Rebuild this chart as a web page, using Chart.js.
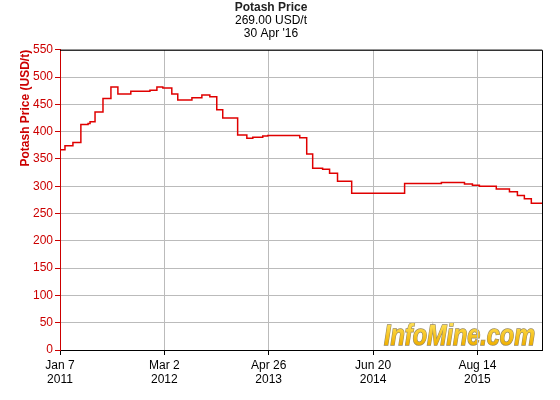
<!DOCTYPE html>
<html>
<head>
<meta charset="utf-8">
<script src="https://cdn.jsdelivr.net/npm/chart.js@4/dist/chart.umd.min.js"></script>
<style>
  html, body { margin: 0; padding: 0; background: #fff; }
  #wrap { width: 560px; height: 400px; }
</style>
</head>
<body>
<div id="wrap"><canvas id="potashChart" width="560" height="400"></canvas></div>
<script>
// Step dates (price valid from this date until the next one) and prices in USD/t
const priceDates = [
  "2011-01-07", "2011-01-27", "2011-02-28", "2011-04-01", "2011-04-30", "2011-05-08",
  "2011-05-28", "2011-06-29", "2011-07-31", "2011-08-28", "2011-10-19", "2012-01-04",
  "2012-02-01", "2012-02-25", "2012-04-01", "2012-04-25", "2012-06-21", "2012-07-31",
  "2012-09-01", "2012-09-29", "2012-10-23", "2012-12-22", "2013-01-28", "2013-02-21",
  "2013-04-02", "2013-04-22", "2013-08-29", "2013-09-26", "2013-10-20", "2013-11-29",
  "2013-12-27", "2014-01-28", "2014-03-26", "2014-10-25", "2015-03-22", "2015-06-23",
  "2015-07-25", "2015-08-22", "2015-10-29", "2015-12-21", "2016-01-22", "2016-02-19",
  "2016-03-18", "2016-04-30"
];
const prices = [
  367, 374, 380, 413, 415, 418,
  436, 461, 482, 469, 474, 476,
  482, 480, 469, 458, 462, 467,
  464, 440, 425, 394, 388, 390,
  392, 393, 389, 359, 333, 331,
  324, 309, 287, 305, 307, 304,
  302, 300, 295, 290, 283, 277,
  269, 269
];
const startDate = "2011-01-07";
const endDate = "2016-04-30";
const tickStepDays = 420;
const yTicksMax = 550;
const yTicksStep = 50;

const MONTHS = ["Jan", "Feb", "Mar", "Apr", "May", "Jun", "Jul", "Aug", "Sep", "Oct", "Nov", "Dec"];
const DAY_MS = 86400000;
const t0 = Date.parse(startDate + "T00:00:00Z");
const toDay = s => Math.round((Date.parse(s + "T00:00:00Z") - t0) / DAY_MS);

const points = priceDates.map((d, i) => ({ x: toDay(d), y: prices[i] }));
const lastDay = toDay(endDate);

const RED = "#cc0000";
const FONT = "'Liberation Sans', Arial, sans-serif";

// black frame on top and right of the plot
const framePlugin = {
  id: "frame",
  beforeDatasetsDraw(chart) {
    const { ctx, chartArea: a } = chart;
    ctx.save();
    ctx.strokeStyle = "#000";
    ctx.lineWidth = 1;
    ctx.beginPath();
    ctx.moveTo(a.left, a.top + 0.5);
    ctx.lineTo(a.right + 0.5, a.top + 0.5);
    ctx.lineTo(a.right + 0.5, a.bottom);
    ctx.stroke();
    ctx.restore();
  }
};

// watermark text in lower right
const watermarkPlugin = {
  id: "watermark",
  beforeDraw(chart) {
    const { ctx } = chart;
    ctx.save();
    ctx.font = "italic bold 30px " + FONT;
    const w = ctx.measureText("InfoMine.com").width;
    ctx.translate(384, 345);
    ctx.scale(151 / w, 1);
    const g = ctx.createLinearGradient(0, -23, 0, 0);
    g.addColorStop(0, "#ffe35a");
    g.addColorStop(1, "#f0b000");
    ctx.lineWidth = 1.5;
    ctx.strokeStyle = "#9a8a60";
    ctx.strokeText("InfoMine.com", 0, 0);
    ctx.fillStyle = g;
    ctx.fillText("InfoMine.com", 0, 0);
    ctx.restore();
  }
};

new Chart(document.getElementById("potashChart"), {
  type: "line",
  data: {
    datasets: [{
      data: points,
      stepped: true,
      borderColor: "#e00000",
      borderWidth: 1.5,
      pointRadius: 0,
      fill: false
    }]
  },
  options: {
    responsive: false,
    animation: false,
    layout: { padding: { left: 0, right: 18, top: 0, bottom: 0 } },
    plugins: {
      legend: { display: false },
      tooltip: { enabled: false },
      title: {
        display: true,
        text: "Potash Price",
        color: "#222",
        font: { family: FONT, size: 12, weight: "bold", lineHeight: 1.05 },
        padding: { top: 1, bottom: 0 }
      },
      subtitle: {
        display: true,
        text: ["269.00 USD/t", "30 Apr '16"],
        color: "#000",
        font: { family: FONT, size: 12, lineHeight: 1.05 },
        padding: { top: 1, bottom: 10 }
      }
    },
    scales: {
      x: {
        type: "linear",
        min: 0,
        max: lastDay,
        afterBuildTicks(scale) {
          const t = [];
          for (let v = 0; v <= lastDay; v += tickStepDays) t.push({ value: v });
          scale.ticks = t;
        },
        afterFit(scale) { scale.height = 50; },
        grid: { color: "#bbbbbb", tickColor: "#000", tickLength: 5 },
        border: { color: "#000", width: 1 },
        ticks: {
          color: "#000",
          padding: 4,
          maxRotation: 0,
          font: { family: FONT, size: 12, lineHeight: 1.15 },
          callback(v) {
            const d = new Date(t0 + v * DAY_MS);
            return [MONTHS[d.getUTCMonth()] + " " + d.getUTCDate(), String(d.getUTCFullYear())];
          }
        }
      },
      y: {
        min: 0,
        max: yTicksMax,
        afterFit(scale) { scale.width = 60; },
        grid: { color: "#bbbbbb", tickColor: RED, tickLength: 5 },
        border: { color: RED, width: 1 },
        ticks: {
          stepSize: yTicksStep,
          color: RED,
          padding: 2,
          font: { family: FONT, size: 12 }
        },
        title: {
          display: true,
          text: "Potash Price (USD/t)",
          align: "end",
          color: RED,
          font: { family: FONT, size: 12, weight: "bold" },
          padding: { top: 18, bottom: 0 }
        }
      }
    }
  },
  plugins: [watermarkPlugin, framePlugin]
});
</script>
</body>
</html>
